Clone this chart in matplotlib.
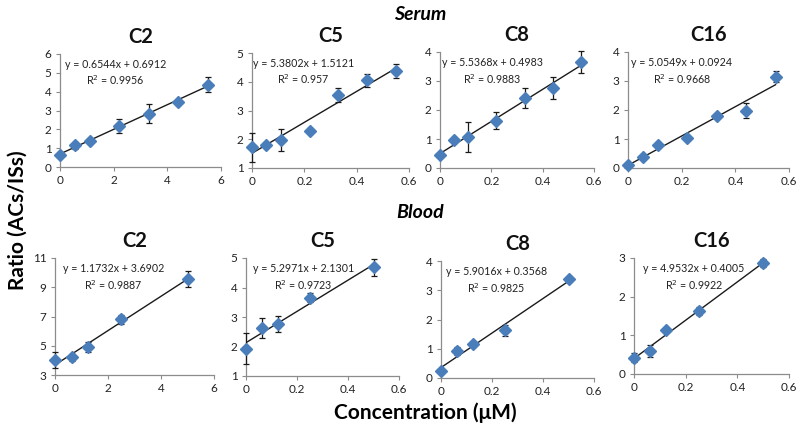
import matplotlib
matplotlib.use("Agg")
import matplotlib.pyplot as plt
import numpy as np

plt.rcParams["font.family"] = ["Lato", "DejaVu Sans"]

MARKER_BLUE = '#4a7ebb'
AXIS_GRAY = '#8c8c8c'

# Serum calibration data (concentration in uM)
serum_x_c2 = [0, 0.55, 1.1, 2.2, 3.3, 4.4, 5.5]
serum_x = [0, 0.055, 0.11, 0.22, 0.33, 0.44, 0.55]
serum_c2 = [0.65, 1.15, 1.38, 2.18, 2.83, 3.43, 4.38]
serum_c2_err = [0.1, 0.2, 0.08, 0.35, 0.5, 0.15, 0.4]
serum_c5 = [1.72, 1.8, 1.97, 2.3, 3.55, 4.05, 4.37]
serum_c5_err = [0.5, 0.05, 0.38, 0.08, 0.25, 0.22, 0.25]
serum_c8 = [0.45, 0.97, 1.07, 1.63, 2.42, 2.77, 3.65]
serum_c8_err = [0.05, 0.1, 0.52, 0.3, 0.35, 0.38, 0.38]
serum_c16 = [0.1, 0.38, 0.8, 1.05, 1.8, 1.98, 3.15]
serum_c16_err = [0.05, 0.05, 0.05, 0.08, 0.05, 0.27, 0.2]

# Blood calibration data
blood_x_c2 = [0, 0.625, 1.25, 2.5, 5]
blood_x = [0, 0.0625, 0.125, 0.25, 0.5]
blood_c2 = [4.0, 4.2, 4.9, 6.8, 9.55]
blood_c2_err = [0.55, 0.25, 0.35, 0.3, 0.55]
blood_c5 = [1.92, 2.63, 2.77, 3.65, 4.68]
blood_c5_err = [0.53, 0.33, 0.27, 0.15, 0.3]
blood_c8 = [0.25, 0.92, 1.17, 1.63, 3.37]
blood_c8_err = [0.05, 0.15, 0.05, 0.18, 0.05]
blood_c16 = [0.42, 0.6, 1.15, 1.62, 2.87]
blood_c16_err = [0.12, 0.15, 0.05, 0.1, 0.1]

# Fit equations shown on the chart: slope, intercept, R^2
fits = {
    "serum_c2": (0.6544, 0.6912, "0.9956"),
    "serum_c5": (5.3802, 1.5121, "0.957"),
    "serum_c8": (5.5368, 0.4983, "0.9883"),
    "serum_c16": (5.0549, 0.0924, "0.9668"),
    "blood_c2": (1.1732, 3.6902, "0.9887"),
    "blood_c5": (5.2971, 2.1301, "0.9723"),
    "blood_c8": (5.9016, 0.3568, "0.9825"),
    "blood_c16": (4.9532, 0.4005, "0.9922"),
}

W, H = 800, 432
fig = plt.figure(figsize=(W / 100, H / 100), dpi=100)
fig.patch.set_facecolor('white')


def px_axes(left, right, top, bottom):
    return fig.add_axes([left / W, 1 - bottom / H, (right - left) / W, (bottom - top) / H])


def draw_panel(box, title, x, y, err, key, xlim, ylim, xticks, yticks, text_x):
    ax = px_axes(*box)
    slope, icpt, r2 = fits[key]
    xs = np.array([x[0], x[-1]])
    ax.plot(xs, slope * xs + icpt, color='#1a1a1a', linewidth=1.0, zorder=2)
    eb = ax.errorbar(x, y, yerr=err, fmt='D', color=MARKER_BLUE, markersize=6,
                     ecolor='#1a1a1a', elinewidth=0.9, capsize=2.5, capthick=0.9, zorder=3)
    for art in eb.get_children():
        art.set_clip_on(False)
    ax.set_xlim(*xlim)
    ax.set_ylim(*ylim)
    ax.set_xticks(xticks)
    ax.set_yticks(yticks)
    ax.set_xticklabels([f"{t:g}" for t in xticks])
    for s in ['top', 'right']:
        ax.spines[s].set_visible(False)
    for s in ['left', 'bottom']:
        ax.spines[s].set_color(AXIS_GRAY)
        ax.spines[s].set_linewidth(0.9)
    ax.tick_params(colors=AXIS_GRAY, labelcolor='#222222', labelsize=8.5,
                   length=3, width=0.8, direction='out', pad=3)
    ax.set_title(title, fontsize=14.5, fontweight='bold', pad=8, color='#111111')
    eq = ax.text(text_x, 0.96, f"y = {slope:.4f}x + {icpt:.4f}", transform=ax.transAxes,
                 fontsize=7.7, ha='left', va='top', color='#222222')
    # centre the R^2 line under the equation
    fig.canvas.draw()
    bb = eq.get_window_extent().transformed(ax.transAxes.inverted())
    ax.text((bb.x0 + bb.x1) / 2, 0.83, f"R$^2$ = {r2}", transform=ax.transAxes,
            fontsize=7.7, ha='center', va='top', color='#222222')
    return ax


small = [0, 0.2, 0.4, 0.6]
big = [0, 2, 4, 6]

# Serum row
draw_panel((60, 221, 54, 167), "C2", serum_x_c2, serum_c2, serum_c2_err, "serum_c2",
           (0, 6), (0, 6), big, range(0, 7), 0.03)
draw_panel((252, 409, 53, 168), "C5", serum_x, serum_c5, serum_c5_err, "serum_c5",
           (0, 0.6), (1, 5), small, range(1, 6), 0.005)
draw_panel((440, 594, 52, 168), "C8", serum_x, serum_c8, serum_c8_err, "serum_c8",
           (0, 0.6), (0, 4), small, range(0, 5), 0.01)
draw_panel((628, 789, 52, 168), "C16", serum_x, serum_c16, serum_c16_err, "serum_c16",
           (0, 0.6), (0, 4), small, range(0, 5), 0.02)

# Blood row
draw_panel((55, 214, 258, 375), "C2", blood_x_c2, blood_c2, blood_c2_err, "blood_c2",
           (0, 6), (3, 11), big, [3, 5, 7, 9, 11], 0.05)
draw_panel((246, 399, 258, 376), "C5", blood_x, blood_c5, blood_c5_err, "blood_c5",
           (0, 0.6), (1, 5), small, range(1, 6), 0.045)
draw_panel((441, 594, 261, 378), "C8", blood_x, blood_c8, blood_c8_err, "blood_c8",
           (0, 0.6), (0, 4), small, range(0, 5), 0.03)
draw_panel((634, 789, 258, 374), "C16", blood_x, blood_c16, blood_c16_err, "blood_c16",
           (0, 0.6), (0, 3), small, range(0, 4), 0.06)

fig.text(420 / W, 1 - 14 / H, "Serum", fontsize=14, fontweight='bold', fontstyle='italic',
         ha='center', va='center')
fig.text(420 / W, 1 - 213 / H, "Blood", fontsize=14, fontweight='bold', fontstyle='italic',
         ha='center', va='center')
fig.text(18 / W, 1 - 220 / H, "Ratio (ACs/ISs)", fontsize=15, fontweight='bold',
         rotation=90, ha='center', va='center')
fig.text(425 / W, 1 - 413 / H, "Concentration (\u03bcM)", fontsize=15, fontweight='bold',
         ha='center', va='center')

fig.savefig("out.png", dpi=100, facecolor='white')
